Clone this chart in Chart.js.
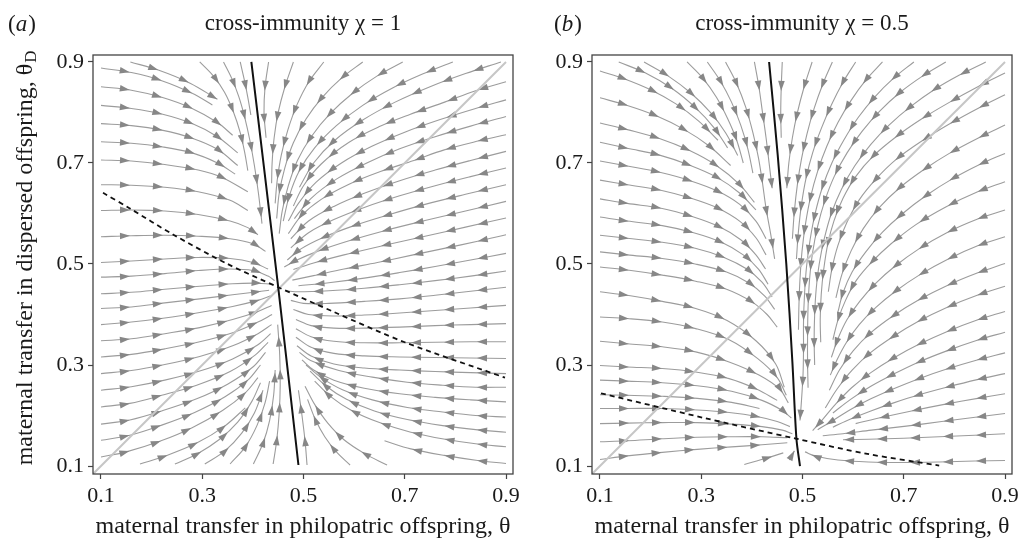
<!DOCTYPE html>
<html><head><meta charset="utf-8">
<script src="https://cdn.jsdelivr.net/npm/chart.js@4/dist/chart.umd.min.js"></script>
<style>
html,body{margin:0;padding:0;background:#fff;overflow:hidden;}
#wrap{position:relative;width:1018px;height:542px;overflow:hidden;}
.box{position:absolute;top:0;height:542px;}
</style></head><body>
<div id="wrap">
<div class="box" style="left:0;width:530px"><canvas id="ca"></canvas></div>
<div class="box" style="left:515px;width:520px"><canvas id="cb"></canvas></div>
</div>
<script>
// ---------- data ----------
const tickValues = [0.1, 0.3, 0.5, 0.7, 0.9];
const axisRange = [0.0842, 0.9138];
const panelTitles = ['cross-immunity χ = 1', 'cross-immunity χ = 0.5'];
const xTitle = 'maternal transfer in philopatric offspring, θ';
const yTitle = 'maternal transfer in dispersed offspring, θ';
const diagonalLine = [0.0845,0.0845, 0.9,0.9];

const thetaNullA  = [0.397,0.9, 0.45,0.454, 0.49,0.102];
const thetaDNullA = [0.104,0.641, 0.157,0.61, 0.243,0.558, 0.348,0.501, 0.45,0.454, 0.56,0.405, 0.7,0.345, 0.898,0.275];
const thetaNullB  = [0.434,0.9, 0.451,0.716, 0.468,0.5, 0.48,0.306, 0.488,0.154, 0.495,0.1];
const thetaDNullB = [0.102,0.244, 0.302,0.196, 0.488,0.154, 0.628,0.124, 0.77,0.101];

// streamlines of panel (a), points in flow order
const streamsA = [
 [0.1,0.888, 0.16,0.879, 0.22,0.863, 0.28,0.838, 0.32,0.815],
 [0.1,0.851, 0.16,0.844, 0.22,0.83, 0.28,0.808, 0.33,0.78, 0.36,0.755],
 [0.1,0.814, 0.16,0.808, 0.22,0.797, 0.28,0.778, 0.33,0.752, 0.37,0.72],
 [0.1,0.778, 0.16,0.774, 0.22,0.765, 0.28,0.749, 0.33,0.727, 0.37,0.695],
 [0.1,0.742, 0.16,0.739, 0.22,0.732, 0.28,0.72, 0.33,0.70, 0.365,0.678],
 [0.1,0.706, 0.16,0.704, 0.226,0.697, 0.292,0.686, 0.34,0.671, 0.39,0.643],
 [0.1,0.657, 0.16,0.656, 0.226,0.652, 0.292,0.643, 0.355,0.626, 0.39,0.606],
 [0.1,0.606, 0.16,0.607, 0.226,0.605, 0.292,0.598, 0.355,0.585, 0.39,0.572, 0.41,0.558],
 [0.1,0.554, 0.16,0.556, 0.226,0.557, 0.292,0.555, 0.355,0.55, 0.40,0.54, 0.425,0.525],
 [0.1,0.503, 0.16,0.506, 0.226,0.51, 0.292,0.513, 0.355,0.511, 0.40,0.503, 0.43,0.49],
 [0.1,0.474, 0.16,0.476, 0.226,0.481, 0.292,0.487, 0.355,0.49, 0.40,0.487, 0.43,0.476, 0.443,0.467],
 [0.1,0.441, 0.16,0.444, 0.226,0.45, 0.295,0.456, 0.36,0.461, 0.41,0.462, 0.435,0.46],
 [0.1,0.412, 0.16,0.415, 0.226,0.423, 0.295,0.431, 0.36,0.439, 0.41,0.445, 0.432,0.448],
 [0.1,0.38, 0.16,0.385, 0.226,0.393, 0.295,0.404, 0.36,0.416, 0.41,0.428, 0.435,0.437],
 [0.1,0.348, 0.16,0.352, 0.226,0.362, 0.295,0.374, 0.36,0.39, 0.41,0.406, 0.437,0.418],
 [0.1,0.316, 0.16,0.321, 0.226,0.332, 0.295,0.346, 0.36,0.364, 0.41,0.385, 0.438,0.40],
 [0.1,0.283, 0.16,0.289, 0.226,0.301, 0.295,0.317, 0.36,0.338, 0.41,0.362, 0.437,0.38],
 [0.1,0.25, 0.16,0.257, 0.226,0.27, 0.295,0.288, 0.36,0.312, 0.41,0.34, 0.435,0.362],
 [0.1,0.217, 0.157,0.224, 0.22,0.24, 0.289,0.26, 0.355,0.287, 0.405,0.32, 0.43,0.345],
 [0.1,0.183, 0.157,0.191, 0.22,0.209, 0.289,0.233, 0.35,0.262, 0.40,0.296, 0.425,0.325],
 [0.1,0.151, 0.157,0.161, 0.22,0.181, 0.285,0.206, 0.345,0.237, 0.39,0.27, 0.415,0.30],
 [0.1,0.118, 0.15,0.128, 0.216,0.149, 0.28,0.176, 0.34,0.21, 0.385,0.245, 0.41,0.275],
 [0.158,0.9, 0.213,0.884, 0.276,0.858, 0.33,0.826],
 [0.295,0.9, 0.322,0.872, 0.344,0.84, 0.362,0.80, 0.375,0.76, 0.384,0.72, 0.39,0.685],
 [0.342,0.9, 0.358,0.868, 0.372,0.832, 0.384,0.79, 0.394,0.745, 0.403,0.695, 0.411,0.64, 0.418,0.58],
 [0.375,0.9, 0.383,0.865, 0.39,0.83, 0.396,0.795],
 [0.177,0.104, 0.23,0.121, 0.29,0.146, 0.343,0.178, 0.385,0.215],
 [0.246,0.104, 0.29,0.124, 0.333,0.152, 0.37,0.187, 0.398,0.228, 0.415,0.265],
 [0.305,0.104, 0.345,0.13, 0.378,0.165, 0.403,0.205, 0.42,0.25],
 [0.355,0.104, 0.385,0.138, 0.408,0.18, 0.424,0.225, 0.433,0.268],
 [0.401,0.104, 0.42,0.145, 0.433,0.19, 0.441,0.24, 0.444,0.29],
 [0.44,0.104, 0.447,0.15, 0.452,0.205, 0.454,0.26, 0.453,0.32, 0.449,0.38],
 [0.431,0.9, 0.424,0.85, 0.422,0.80, 0.426,0.75],
 [0.48,0.9, 0.463,0.85, 0.45,0.80, 0.442,0.75, 0.438,0.70, 0.437,0.66],
 [0.54,0.9, 0.51,0.86, 0.487,0.815, 0.469,0.765, 0.456,0.715, 0.448,0.665, 0.444,0.62],
 [0.617,0.9, 0.575,0.868, 0.537,0.83, 0.505,0.787, 0.48,0.74, 0.463,0.69, 0.452,0.64, 0.447,0.59],
 [0.696,0.9, 0.645,0.872, 0.597,0.838, 0.553,0.798, 0.516,0.753, 0.488,0.705, 0.47,0.655, 0.458,0.605, 0.452,0.56],
 [0.795,0.9, 0.735,0.876, 0.675,0.848, 0.617,0.814, 0.565,0.774, 0.522,0.73, 0.492,0.685, 0.472,0.635, 0.46,0.585],
 [0.89,0.9, 0.82,0.877, 0.75,0.851, 0.68,0.82, 0.617,0.785, 0.562,0.745, 0.52,0.70, 0.492,0.652],
 [0.9,0.861, 0.84,0.843, 0.78,0.821, 0.71,0.796, 0.65,0.772, 0.59,0.741, 0.535,0.698, 0.50,0.655, 0.48,0.615],
 [0.9,0.825, 0.84,0.808, 0.77,0.786, 0.70,0.761, 0.635,0.733, 0.575,0.70, 0.525,0.662, 0.49,0.62, 0.47,0.585],
 [0.9,0.792, 0.83,0.773, 0.76,0.752, 0.69,0.728, 0.625,0.70, 0.565,0.668, 0.515,0.63, 0.482,0.59],
 [0.9,0.756, 0.847,0.744, 0.778,0.726, 0.718,0.705, 0.652,0.683, 0.59,0.658, 0.535,0.628, 0.495,0.595, 0.47,0.56],
 [0.9,0.723, 0.83,0.705, 0.76,0.686, 0.69,0.665, 0.62,0.64, 0.56,0.614, 0.51,0.585, 0.475,0.55],
 [0.9,0.69, 0.83,0.673, 0.76,0.655, 0.69,0.635, 0.62,0.612, 0.56,0.588, 0.51,0.562, 0.475,0.532],
 [0.9,0.657, 0.82,0.638, 0.74,0.618, 0.67,0.598, 0.60,0.576, 0.54,0.553, 0.495,0.53, 0.468,0.508],
 [0.9,0.624, 0.82,0.605, 0.74,0.586, 0.66,0.566, 0.59,0.546, 0.53,0.526, 0.485,0.507, 0.462,0.494],
 [0.9,0.591, 0.82,0.573, 0.74,0.555, 0.66,0.537, 0.58,0.518, 0.52,0.502, 0.48,0.489],
 [0.9,0.558, 0.844,0.545, 0.778,0.531, 0.712,0.517, 0.646,0.503, 0.58,0.49, 0.52,0.477, 0.478,0.468],
 [0.9,0.521, 0.83,0.508, 0.76,0.495, 0.69,0.483, 0.62,0.472, 0.55,0.463, 0.49,0.457],
 [0.9,0.486, 0.83,0.476, 0.76,0.467, 0.69,0.459, 0.62,0.452, 0.55,0.447, 0.49,0.445, 0.465,0.447],
 [0.9,0.454, 0.83,0.446, 0.76,0.438, 0.69,0.431, 0.62,0.426, 0.55,0.422, 0.5,0.422, 0.475,0.428],
 [0.9,0.418, 0.83,0.413, 0.76,0.408, 0.69,0.403, 0.62,0.399, 0.56,0.397, 0.51,0.40, 0.48,0.41],
 [0.9,0.382, 0.83,0.38, 0.76,0.378, 0.69,0.375, 0.62,0.373, 0.56,0.373, 0.515,0.378, 0.485,0.39],
 [0.9,0.346, 0.83,0.346, 0.76,0.345, 0.69,0.344, 0.62,0.344, 0.56,0.347, 0.515,0.356, 0.485,0.372],
 [0.9,0.313, 0.83,0.314, 0.76,0.315, 0.69,0.316, 0.62,0.318, 0.56,0.323, 0.515,0.335, 0.485,0.355],
 [0.9,0.283, 0.83,0.285, 0.76,0.287, 0.69,0.29, 0.62,0.294, 0.56,0.302, 0.515,0.318, 0.487,0.338],
 [0.9,0.256, 0.84,0.256, 0.775,0.26, 0.705,0.266, 0.636,0.276, 0.57,0.289, 0.514,0.309, 0.492,0.325],
 [0.9,0.227, 0.83,0.231, 0.76,0.236, 0.69,0.243, 0.62,0.254, 0.56,0.27, 0.52,0.29, 0.497,0.31],
 [0.9,0.197, 0.84,0.2, 0.775,0.207, 0.705,0.216, 0.636,0.231, 0.577,0.251, 0.535,0.275, 0.505,0.30],
 [0.9,0.167, 0.84,0.172, 0.775,0.18, 0.705,0.192, 0.64,0.209, 0.585,0.232, 0.545,0.258, 0.513,0.288],
 [0.9,0.138, 0.84,0.144, 0.78,0.153, 0.712,0.167, 0.65,0.186, 0.595,0.21, 0.553,0.238, 0.522,0.268],
 [0.9,0.105, 0.844,0.111, 0.778,0.121, 0.712,0.134, 0.66,0.15],
 [0.665,0.102, 0.62,0.125, 0.58,0.152, 0.548,0.185, 0.522,0.222, 0.503,0.258],
 [0.592,0.102, 0.565,0.128, 0.542,0.158, 0.523,0.193, 0.508,0.232],
 [0.507,0.102, 0.503,0.15, 0.497,0.2, 0.49,0.25]
];

// streamlines of panel (b)
const streamsB = [
 [0.1,0.882, 0.15,0.866, 0.2,0.845, 0.25,0.817, 0.295,0.783, 0.333,0.745],
 [0.1,0.829, 0.154,0.814, 0.21,0.794, 0.265,0.767, 0.315,0.734, 0.358,0.695],
 [0.1,0.779, 0.154,0.766, 0.216,0.749, 0.276,0.725, 0.33,0.695, 0.375,0.658, 0.405,0.622],
 [0.1,0.741, 0.154,0.729, 0.216,0.716, 0.276,0.696, 0.332,0.671, 0.375,0.641, 0.408,0.607],
 [0.1,0.704, 0.154,0.694, 0.216,0.682, 0.278,0.665, 0.333,0.644, 0.376,0.618, 0.408,0.585, 0.428,0.55],
 [0.1,0.666, 0.154,0.657, 0.22,0.646, 0.28,0.63, 0.334,0.61, 0.377,0.584, 0.408,0.552, 0.428,0.518],
 [0.1,0.629, 0.154,0.62, 0.223,0.61, 0.282,0.594, 0.335,0.574, 0.378,0.548, 0.408,0.518, 0.427,0.49],
 [0.1,0.593, 0.154,0.585, 0.223,0.576, 0.285,0.562, 0.34,0.543, 0.383,0.518, 0.413,0.49, 0.432,0.46],
 [0.1,0.557, 0.154,0.551, 0.223,0.543, 0.288,0.531, 0.345,0.513, 0.39,0.49, 0.42,0.464, 0.44,0.435],
 [0.1,0.524, 0.154,0.518, 0.223,0.511, 0.288,0.5, 0.35,0.484, 0.395,0.462, 0.425,0.437, 0.445,0.41],
 [0.1,0.494, 0.154,0.488, 0.223,0.478, 0.289,0.466, 0.35,0.45, 0.40,0.425, 0.43,0.40, 0.45,0.375],
 [0.1,0.445, 0.154,0.438, 0.223,0.426, 0.289,0.412, 0.351,0.388, 0.408,0.348, 0.447,0.302, 0.464,0.256],
 [0.1,0.395, 0.154,0.392, 0.223,0.385, 0.289,0.372, 0.355,0.35, 0.411,0.313, 0.45,0.275, 0.468,0.24],
 [0.1,0.347, 0.154,0.342, 0.223,0.336, 0.289,0.326, 0.355,0.306, 0.414,0.28, 0.455,0.252, 0.472,0.225],
 [0.1,0.299, 0.154,0.296, 0.223,0.293, 0.289,0.286, 0.355,0.273, 0.41,0.252, 0.45,0.23],
 [0.1,0.27, 0.154,0.268, 0.223,0.265, 0.292,0.259, 0.36,0.248, 0.42,0.23, 0.46,0.21, 0.478,0.195],
 [0.1,0.241, 0.154,0.24, 0.223,0.238, 0.292,0.234, 0.36,0.226, 0.415,0.214],
 [0.1,0.214, 0.154,0.214, 0.223,0.214, 0.292,0.211, 0.355,0.206, 0.41,0.198, 0.45,0.188, 0.475,0.178],
 [0.1,0.184, 0.154,0.185, 0.223,0.186, 0.292,0.186, 0.36,0.183, 0.42,0.178, 0.46,0.171, 0.48,0.164],
 [0.1,0.148, 0.154,0.15, 0.223,0.154, 0.292,0.157, 0.36,0.158, 0.42,0.158, 0.47,0.156],
 [0.1,0.113, 0.154,0.12, 0.223,0.127, 0.292,0.133, 0.36,0.138, 0.42,0.142, 0.47,0.146],
 [0.385,0.103, 0.43,0.116, 0.462,0.126],
 [0.474,0.112, 0.484,0.13],
 [0.137,0.9, 0.19,0.878, 0.243,0.847, 0.288,0.81, 0.325,0.77, 0.352,0.73],
 [0.187,0.9, 0.235,0.872, 0.28,0.838, 0.318,0.80, 0.348,0.76, 0.372,0.715],
 [0.272,0.9, 0.303,0.868, 0.33,0.83, 0.352,0.788, 0.37,0.745, 0.383,0.70],
 [0.312,0.9, 0.338,0.862, 0.36,0.82, 0.378,0.775, 0.392,0.728, 0.402,0.68],
 [0.348,0.9, 0.37,0.857, 0.388,0.81, 0.402,0.76, 0.413,0.71, 0.421,0.66, 0.428,0.61, 0.437,0.56, 0.445,0.51],
 [0.405,0.9, 0.414,0.85, 0.421,0.8, 0.428,0.75, 0.434,0.7, 0.44,0.65],
 [0.46,0.9, 0.458,0.85, 0.457,0.8, 0.458,0.75],
 [0.519,0.9, 0.503,0.85, 0.49,0.8, 0.48,0.75, 0.473,0.70, 0.469,0.65],
 [0.559,0.9, 0.54,0.856, 0.523,0.808, 0.509,0.758, 0.498,0.708, 0.49,0.658, 0.484,0.605, 0.48,0.55],
 [0.605,0.9, 0.58,0.86, 0.557,0.815, 0.537,0.768, 0.52,0.72, 0.507,0.67, 0.498,0.618, 0.492,0.565, 0.488,0.51],
 [0.658,0.9, 0.625,0.864, 0.596,0.824, 0.57,0.78, 0.548,0.733, 0.53,0.684, 0.516,0.633, 0.506,0.58, 0.499,0.525, 0.495,0.47, 0.493,0.42, 0.492,0.37],
 [0.72,0.9, 0.68,0.868, 0.643,0.831, 0.61,0.79, 0.582,0.746, 0.558,0.70, 0.539,0.651, 0.525,0.60, 0.515,0.548, 0.508,0.495, 0.504,0.44, 0.502,0.385, 0.502,0.33, 0.501,0.28, 0.498,0.23, 0.495,0.19],
 [0.783,0.9, 0.737,0.872, 0.693,0.84, 0.653,0.803, 0.618,0.763, 0.588,0.72, 0.563,0.674, 0.544,0.625, 0.53,0.575, 0.52,0.523, 0.514,0.47, 0.511,0.415, 0.51,0.36, 0.51,0.305, 0.511,0.255],
 [0.862,0.9, 0.81,0.874, 0.76,0.845, 0.714,0.812, 0.672,0.776, 0.635,0.737, 0.603,0.694, 0.577,0.648, 0.557,0.6, 0.543,0.55, 0.533,0.5, 0.527,0.45, 0.524,0.4, 0.523,0.35, 0.524,0.3],
 [0.9,0.878, 0.85,0.853, 0.79,0.82, 0.735,0.787, 0.685,0.752, 0.64,0.714, 0.605,0.673, 0.58,0.63, 0.562,0.585, 0.55,0.54, 0.542,0.49, 0.537,0.44, 0.535,0.39, 0.536,0.345],
 [0.9,0.835, 0.85,0.81, 0.79,0.777, 0.735,0.743, 0.685,0.707, 0.645,0.668, 0.612,0.627, 0.588,0.583, 0.57,0.537, 0.558,0.49, 0.551,0.445],
 [0.9,0.775, 0.85,0.751, 0.79,0.719, 0.74,0.687, 0.692,0.651, 0.652,0.612, 0.62,0.57, 0.596,0.526, 0.578,0.48, 0.566,0.433],
 [0.9,0.719, 0.85,0.697, 0.795,0.668, 0.745,0.636, 0.698,0.6, 0.658,0.563, 0.625,0.524, 0.598,0.484, 0.58,0.443, 0.57,0.405],
 [0.9,0.663, 0.846,0.643, 0.783,0.613, 0.724,0.578, 0.675,0.54, 0.637,0.504, 0.606,0.467, 0.585,0.428, 0.57,0.389, 0.56,0.35],
 [0.9,0.607, 0.846,0.589, 0.785,0.562, 0.73,0.53, 0.683,0.496, 0.645,0.462, 0.613,0.426, 0.588,0.39, 0.57,0.352, 0.557,0.315],
 [0.9,0.554, 0.846,0.536, 0.788,0.51, 0.732,0.479, 0.685,0.447, 0.645,0.414, 0.612,0.38, 0.587,0.345, 0.568,0.31, 0.555,0.28],
 [0.9,0.501, 0.845,0.482, 0.785,0.457, 0.73,0.429, 0.68,0.398, 0.635,0.364, 0.6,0.328, 0.573,0.29, 0.553,0.25],
 [0.9,0.456, 0.845,0.438, 0.785,0.414, 0.73,0.387, 0.68,0.357, 0.635,0.325, 0.598,0.29, 0.568,0.252, 0.545,0.215],
 [0.9,0.406, 0.845,0.389, 0.785,0.366, 0.73,0.341, 0.68,0.314, 0.635,0.285, 0.597,0.255, 0.565,0.222, 0.538,0.19, 0.52,0.17],
 [0.9,0.365, 0.845,0.349, 0.785,0.328, 0.73,0.306, 0.68,0.282, 0.635,0.258, 0.595,0.232, 0.56,0.205],
 [0.9,0.324, 0.845,0.31, 0.785,0.292, 0.73,0.273, 0.68,0.253, 0.635,0.233, 0.595,0.212, 0.56,0.19, 0.53,0.172],
 [0.9,0.283, 0.845,0.271, 0.785,0.256, 0.73,0.241, 0.68,0.225, 0.635,0.209, 0.595,0.193, 0.56,0.177],
 [0.9,0.243, 0.846,0.234, 0.78,0.222, 0.72,0.21, 0.66,0.197, 0.605,0.184],
 [0.9,0.204, 0.845,0.197, 0.775,0.188, 0.705,0.179, 0.636,0.171, 0.58,0.164, 0.54,0.16],
 [0.9,0.164, 0.84,0.161, 0.77,0.158, 0.70,0.155, 0.63,0.153, 0.58,0.152],
 [0.9,0.111, 0.84,0.11, 0.77,0.108, 0.70,0.107, 0.63,0.108, 0.57,0.112, 0.525,0.12, 0.505,0.128]
];

// ---------- rendering ----------
Chart.defaults.font.family = "'Liberation Serif','Times New Roman',serif";
Chart.defaults.color = '#1a1a1a';

function pts(flat){ const o=[]; for(let i=0;i<flat.length;i+=2) o.push({x:flat[i], y:flat[i+1]}); return o; }

function buildDatasets(thetaNull, thetaDNull, streams){
  const ds = [
    {data: pts(thetaNull), borderColor:'#111', borderWidth:2, tension:0.3},
    {data: pts(thetaDNull), borderColor:'#111', borderWidth:1.8, borderDash:[5,4], tension:0.3},
    {data: pts(diagonalLine), borderColor:'#c6c6c6', borderWidth:2, tension:0}
  ];
  streams.forEach(s => ds.push({data: pts(s), borderColor:'#9c9c9c', borderWidth:1.1, tension:0.35, arrows:true}));
  return ds;
}

const ARROW_FIRST = 29, ARROW_STEP = 33, ARROW_LEN = 10, ARROW_HW = 3.3;
const arrowPlugin = {
  id:'streamArrows',
  afterDatasetDraw(chart, args){
    const ds = chart.data.datasets[args.index];
    if (!ds.arrows) return;
    const p = args.meta.data;
    if (p.length < 2) return;
    const poly = [];
    for (let i=0;i<p.length-1;i++){
      const a=p[i], b=p[i+1];
      const c1x = a.cp2x!==undefined?a.cp2x:a.x, c1y = a.cp2y!==undefined?a.cp2y:a.y;
      const c2x = b.cp1x!==undefined?b.cp1x:b.x, c2y = b.cp1y!==undefined?b.cp1y:b.y;
      for (let k=0;k<12;k++){
        const t=k/12, u=1-t;
        poly.push([u*u*u*a.x+3*u*u*t*c1x+3*u*t*t*c2x+t*t*t*b.x,
                   u*u*u*a.y+3*u*u*t*c1y+3*u*t*t*c2y+t*t*t*b.y]);
      }
    }
    const last = p[p.length-1]; poly.push([last.x,last.y]);
    const cum=[0];
    for (let i=1;i<poly.length;i++) cum.push(cum[i-1]+Math.hypot(poly[i][0]-poly[i-1][0], poly[i][1]-poly[i-1][1]));
    const total = cum[cum.length-1];
    const targets=[];
    for (let s=ARROW_FIRST; s<=total+0.5; s+=ARROW_STEP) targets.push(Math.min(s,total));
    if (!targets.length) targets.push(total);
    const ctx = chart.ctx;
    ctx.save();
    ctx.fillStyle = '#878787';
    let j=1;
    for (const s of targets){
      while (j<cum.length-1 && cum[j]<s) j++;
      const p0=poly[j-1], p1=poly[j];
      const sl = (cum[j]-cum[j-1]) || 1;
      const f = Math.max(0, Math.min(1, (s-cum[j-1])/sl));
      const x = p0[0]+(p1[0]-p0[0])*f, y = p0[1]+(p1[1]-p0[1])*f;
      let dx=p1[0]-p0[0], dy=p1[1]-p0[1]; const L=Math.hypot(dx,dy)||1; dx/=L; dy/=L;
      const bx = x-dx*ARROW_LEN, by = y-dy*ARROW_LEN;
      ctx.beginPath();
      ctx.moveTo(x,y);
      ctx.lineTo(bx-dy*ARROW_HW, by+dx*ARROW_HW);
      ctx.lineTo(bx+dy*ARROW_HW, by-dx*ARROW_HW);
      ctx.closePath();
      ctx.fill();
    }
    ctx.restore();
  }
};

const framePlugin = {
  id:'frame',
  afterDraw(chart){
    const a=chart.chartArea, c=chart.ctx;
    c.save(); c.strokeStyle='#444'; c.lineWidth=1.3;
    c.strokeRect(a.left, a.top, a.right-a.left, a.bottom-a.top);
    c.restore();
  }
};

const AXIS_TITLE_SIZE = 24;
const labelPlugin = {
  id:'panelLabel',
  afterDraw(chart, args, opts){
    if (!opts || !opts.letter) return;
    const c=chart.ctx; c.save();
    c.fillStyle='#1a1a1a'; c.textBaseline='alphabetic'; c.textAlign='left';
    const f = "23px 'Liberation Serif','Times New Roman',serif";
    const fi = "italic 23px 'Liberation Serif','Times New Roman',serif";
    let x=opts.x; const y=31;
    c.font=f; c.fillText('(',x,y); x+=c.measureText('(').width;
    c.font=fi; c.fillText(opts.letter,x,y); x+=c.measureText(opts.letter).width+1;
    c.font=f; c.fillText(')',x,y);
    if (opts.subscript){
      const ys = chart.scales.y;
      c.font = AXIS_TITLE_SIZE + "px 'Liberation Serif','Times New Roman',serif";
      const w = c.measureText(yTitle).width;
      const cy = (ys.top+ys.bottom)/2;
      const tx = ys.left + AXIS_TITLE_SIZE*0.6 + 11;
      c.translate(tx, cy); c.rotate(-Math.PI/2);
      c.font = "17px 'Liberation Serif','Times New Roman',serif";
      c.textBaseline='middle';
      c.fillText('D', w/2+1, 6);
    }
    c.restore();
  }
};

function scaleCfg(axis, fitSize, titleText, titlePad){
  return {
    type:'linear', min:axisRange[0], max:axisRange[1],
    afterBuildTicks: s => { s.ticks = tickValues.map(v => ({value:v})); },
    afterFit: s => { if (axis==='x') s.height = fitSize; else s.width = fitSize; },
    ticks: {callback: v => Number(v).toFixed(1), font:{size:22}, color:'#1a1a1a', padding:4, maxRotation:0, autoSkip:false},
    grid: {display:true, drawOnChartArea:false, drawTicks:true, tickLength:5, tickColor:'#444', tickWidth:1.2},
    border: {display:false},
    title: titleText ? {display:true, text:titleText, font:{size:AXIS_TITLE_SIZE}, color:'#1a1a1a', padding:titlePad} : {display:false}
  };
}

function makeChart(id, title, nullT, nullTD, streams, yWidth, rightPad, yTitleText, label){
  return new Chart(document.getElementById(id), {
    type:'line',
    data:{datasets: buildDatasets(nullT, nullTD, streams)},
    options:{
      responsive:true, maintainAspectRatio:false, animation:false, events:[],
      layout:{padding:{left:0, right:rightPad, top:0, bottom:0}},
      elements:{point:{radius:0}},
      plugins:{
        legend:{display:false}, tooltip:{enabled:false},
        title:{display:true, text:title, fullSize:false, font:{size:23, weight:'normal'}, color:'#1a1a1a', padding:{top:10.5, bottom:16.9}},
        panelLabel: label
      },
      scales:{
        x: scaleCfg('x', 68, xTitle, {top:0, bottom:1}),
        y: scaleCfg('y', yWidth, yTitleText, {top:11, bottom:0})
      }
    },
    plugins:[arrowPlugin, framePlugin, labelPlugin]
  });
}

makeChart('ca', panelTitles[0], thetaNullA, thetaDNullA, streamsA, 93, 17, yTitle, {letter:'a', x:8, subscript:true});
makeChart('cb', panelTitles[1], thetaNullB, thetaDNullB, streamsB, 77, 23, null, {letter:'b', x:39, subscript:false});
</script>
</body></html>
